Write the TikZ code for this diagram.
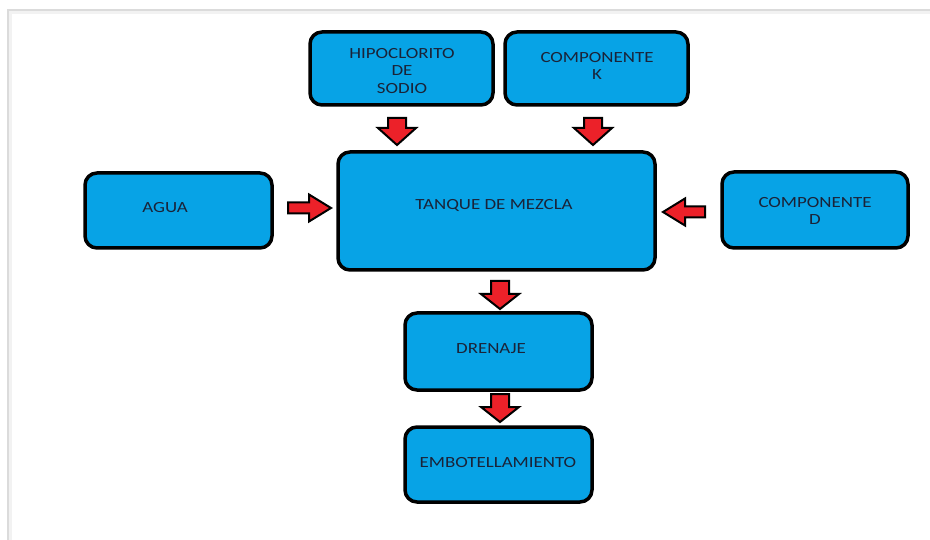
\documentclass[tikz,border=0pt]{standalone}
\usepackage{fontspec}
\setmainfont{Carlito}[FakeStretch=1.22]
\usetikzlibrary{calc}
\definecolor{boxblue}{HTML}{07A3E6}
\definecolor{txt}{HTML}{1A2338}
\definecolor{arrred}{HTML}{EC2129}
\tikzset{
  box/.style={draw=black, line width=3.5pt, fill=boxblue, rounded corners=12pt, inner sep=0pt},
  lbl/.style={text=txt, font=\fontsize{15.5}{17.5}\selectfont, align=center, inner sep=0pt},
  arrowpoly/.style={draw=black, line width=2pt, fill=arrred, line join=miter}
}
% block arrow pointing along +x from its tail (0,0): length, shaft width, head width, head length
\newcommand{\blockarr}[4]{%
  (0,-#2/2) -- ({#1-#4},-#2/2) -- ({#1-#4},-#3/2) -- (#1,0) -- ({#1-#4},#3/2) -- ({#1-#4},#2/2) -- (0,#2/2) -- cycle}
\begin{document}
\begin{tikzpicture}[x=1pt,y=-1pt]
\useasboundingbox (0,0) rectangle (930,540);
% page shadow frame
\draw[black!5, line width=4pt] (10,540) -- (10,12) -- (930,12);
\draw[black!14, line width=1.2pt] (8,540) -- (8,10) -- (930,10);
% boxes
\node[box, minimum width=183pt, minimum height=73pt] (hipo) at (401.5,68.5) {};
\node[lbl] at (402,71) {HIPOCLORITO\\DE\\SODIO};
\node[box, minimum width=183pt, minimum height=73pt] (compk) at (596.5,68.5) {};
\node[lbl] at (597,66) {COMPONENTE\\K};
\node[box, minimum width=317pt, minimum height=118pt] (tanque) at (496.5,211) {};
\node[lbl] at (494,205) {TANQUE DE MEZCLA};
\node[box, minimum width=187pt, minimum height=75pt] (agua) at (178.5,210.5) {};
\node[lbl] at (165,208) {AGUA};
\node[box, minimum width=186pt, minimum height=76pt] (compd) at (815,210) {};
\node[lbl] at (815,211) {COMPONENTE\\D};
\node[box, minimum width=187pt, minimum height=77pt] (drenaje) at (498.5,351.5) {};
\node[lbl] at (491,349) {DRENAJE};
\node[box, minimum width=187pt, minimum height=75pt] (embot) at (498.5,464.5) {};
\node[lbl] at (498,463) {EMBOTELLAMIENTO};
% arrows
\coordinate (t1) at (397,118);
\coordinate (t2) at (593,118);
\coordinate (t3) at (288,208);
\coordinate (t4) at (705,212);
\coordinate (t5) at (500,281);
\coordinate (t6) at (500,394);
\draw[arrowpoly, shift={(t1)}, rotate=-90] \blockarr{27}{18}{38}{17};
\draw[arrowpoly, shift={(t2)}, rotate=-90] \blockarr{27}{18}{38}{17};
\draw[arrowpoly, shift={(t3)}] \blockarr{43}{11}{27}{22};
\draw[arrowpoly, shift={(t4)}, rotate=180] \blockarr{42}{11}{27}{22};
\draw[arrowpoly, shift={(t5)}, rotate=-90] \blockarr{28}{18}{38}{15};
\draw[arrowpoly, shift={(t6)}, rotate=-90] \blockarr{28}{18}{38}{15};
\end{tikzpicture}
\end{document}
